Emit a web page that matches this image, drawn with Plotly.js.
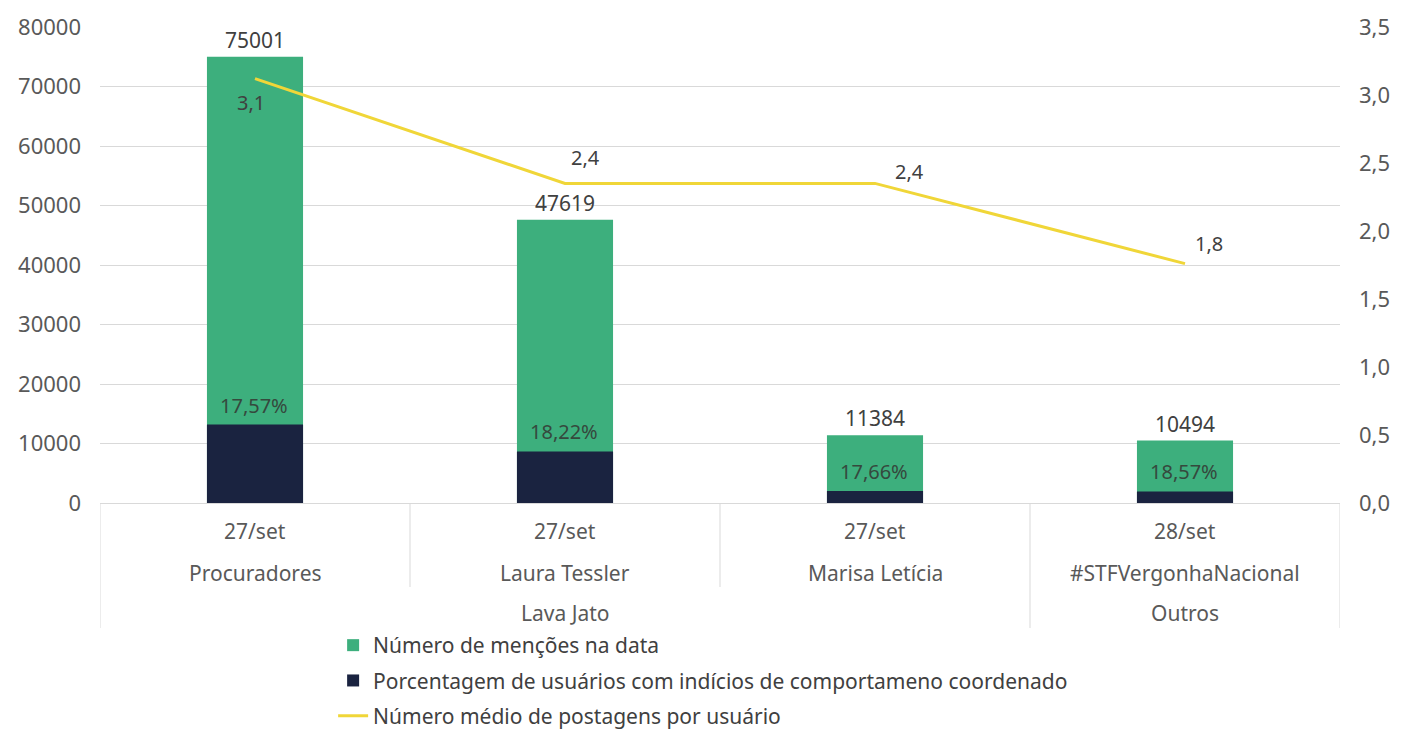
<!DOCTYPE html>
<html>
<head>
<meta charset="utf-8">
<script src="https://cdn.plot.ly/plotly-3.0.1.min.js"></script>
<style>html,body{margin:0;padding:0;background:#fff;}#chart{width:1409px;height:731px;}</style>
</head>
<body>
<div id="chart"></div>
<script>
// ---- data ----
const dates = ['27/set', '27/set', '27/set', '28/set'];
const topics = ['Procuradores', 'Laura Tessler', 'Marisa Letícia', '#STFVergonhaNacional'];
const groups = ['Lava Jato', 'Lava Jato', 'Lava Jato', 'Outros'];
const mentions = [75001, 47619, 11384, 10494];
const coordPct = [17.57, 18.22, 17.66, 18.57];
const avgPosts = [3.12, 2.35, 2.35, 1.76];

const leftTicks = [0, 10000, 20000, 30000, 40000, 50000, 60000, 70000, 80000];
const rightTicks = [0, 0.5, 1.0, 1.5, 2.0, 2.5, 3.0, 3.5];

const seriesNames = [
  'Número de menções na data',
  'Porcentagem de usuários com indícios de comportameno coordenado',
  'Número médio de postagens por usuário'
];

// ---- styling ----
const FONT = 'Noto Sans, Lato, sans-serif';
const TXT = '#595959';
const GREEN = '#3daf7d';
const NAVY = '#1a2340';
const YELLOW = '#f0d638';
const GRID = '#d9d9d9';
const FS = 21;

const coordUsers = mentions.map((m, i) => m * coordPct[i] / 100);
const fmtComma = (v, d) => v.toFixed(d).replace('.', ',');

const traces = [
  {
    type: 'bar', x: topics, y: mentions, name: seriesNames[0],
    marker: {color: GREEN}, width: 0.31,
    text: mentions.map(String), textposition: 'outside',
    textfont: {family: FONT, size: FS, color: '#404040'},
    cliponaxis: false, legendgroup: 'a', hoverinfo: 'none'
  },
  {
    type: 'bar', x: topics, y: coordUsers, name: seriesNames[1],
    marker: {color: NAVY}, width: 0.31,
    legendgroup: 'b', hoverinfo: 'none'
  },
  {
    type: 'scatter', mode: 'lines', x: topics, y: avgPosts, yaxis: 'y2',
    name: seriesNames[2], line: {color: YELLOW, width: 3},
    legendgroup: 'c', hoverinfo: 'none'
  }
];

const annotations = [];
// percentage labels just above the navy bars
coordUsers.forEach((v, i) => {
  annotations.push({
    x: topics[i], y: v, xref: 'x', yref: 'y', text: fmtComma(coordPct[i], 2) + '%',
    showarrow: false, yanchor: 'bottom', yshift: 4, xshift: -1,
    font: {family: FONT, size: FS - 1, color: '#35493d'}
  });
});
// line labels
const lineOffsets = [[-4, -24], [20, 26], [34, 12], [24, 20]];
avgPosts.forEach((v, i) => {
  annotations.push({
    x: topics[i], y: v, xref: 'x', yref: 'y2',
    text: fmtComma(Math.round(v * 10) / 10, 1),
    showarrow: false, xshift: lineOffsets[i][0], yshift: lineOffsets[i][1],
    xanchor: 'center', yanchor: 'middle',
    font: {family: FONT, size: FS - 1, color: '#404040'}
  });
});
// category axis rows
topics.forEach((t, i) => {
  annotations.push({x: t, y: 0, xref: 'x', yref: 'paper', text: dates[i], showarrow: false,
    yanchor: 'middle', yshift: -28, font: {family: FONT, size: FS, color: TXT}});
  annotations.push({x: t, y: 0, xref: 'x', yref: 'paper', text: t, showarrow: false,
    yanchor: 'middle', yshift: -70, font: {family: FONT, size: FS, color: TXT}});
});

const shapes = [];
const H = 476;
// group spans
let start = 0;
for (let i = 1; i <= groups.length; i++) {
  if (i === groups.length || groups[i] !== groups[start]) {
    annotations.push({x: (start + i - 1) / 2, y: 0, xref: 'x', yref: 'paper', text: groups[start],
      showarrow: false, yanchor: 'middle', yshift: -110, font: {family: FONT, size: FS, color: TXT}});
    start = i;
  }
}
// separators
for (let k = 0; k <= topics.length; k++) {
  const isGroupEdge = k === 0 || k === topics.length || groups[k] !== groups[k - 1];
  shapes.push({type: 'line', xref: 'x', yref: 'paper', x0: k - 0.5, x1: k - 0.5,
    y0: 0, y1: -(isGroupEdge ? 125 : 84) / H, line: {color: GRID, width: 1}});
}

const layout = {
  width: 1409, height: 731,
  margin: {l: 100, r: 69, t: 27, b: 228, autoexpand: false},
  paper_bgcolor: '#fff', plot_bgcolor: '#fff',
  barmode: 'overlay',
  separators: ', ',
  font: {family: FONT, size: FS, color: TXT},
  showlegend: true,
  legend: {x: 0.188, y: 0.145, xref: 'paper', yref: 'container', xanchor: 'left', yanchor: 'top',
    orientation: 'v', tracegroupgap: 5, font: {family: FONT, size: 21, color: '#404040'},
    itemwidth: 30, bgcolor: 'rgba(0,0,0,0)'},
  xaxis: {type: 'category', range: [-0.5, 3.5], showticklabels: false, showgrid: false,
    zeroline: false, showline: true, linecolor: GRID, linewidth: 1, ticks: '', fixedrange: true},
  yaxis: {range: [0, 80000], tickvals: leftTicks, tickformat: 'd', showgrid: true, gridcolor: GRID,
    zeroline: false, showline: false, ticks: '', ticklabelstandoff: 18,
    tickfont: {family: FONT, size: 22, color: TXT}},
  yaxis2: {overlaying: 'y', side: 'right', range: [0, 3.5], tickvals: rightTicks, tickformat: '.1f',
    showgrid: false, zeroline: false, showline: false, ticks: '', ticklabelstandoff: 18,
    tickfont: {family: FONT, size: 22, color: TXT}},
  annotations: annotations,
  shapes: shapes
};

Plotly.newPlot('chart', traces, layout, {displayModeBar: false, staticPlot: true});
</script>
</body>
</html>
